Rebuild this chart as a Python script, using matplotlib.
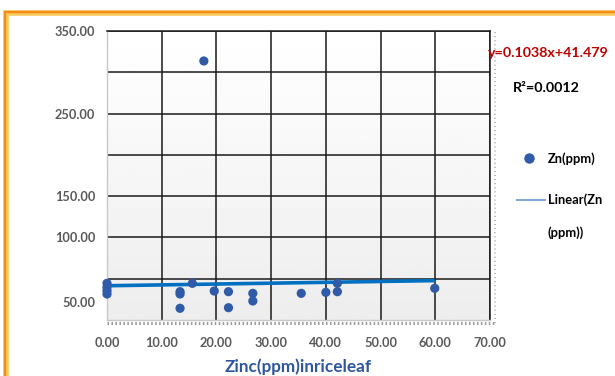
import numpy as np
import matplotlib.pyplot as plt
from matplotlib.patches import Rectangle
from matplotlib.lines import Line2D

plt.rcParams['font.family'] = ['Lato', 'DejaVu Sans']

# Zinc in rice leaf (x) vs Zn (y)
zinc_leaf = [0.0, 0.0, 0.0, 0.0, 13.35, 13.35, 13.35, 15.6, 17.7, 19.6,
             22.2, 22.2, 26.65, 26.65, 35.5, 40.0, 42.1, 42.1, 59.9]
zinc_ppm = [44.4, 39.6, 35.5, 31.5, 34.3, 31.5, 14.2, 44.4, 313.7, 35.1,
            34.3, 14.9, 32.3, 23.0, 32.3, 33.5, 44.4, 34.3, 38.4]

# trendline as printed on the chart
TREND_SLOPE = 0.1038
TREND_INTERCEPT = 41.479
R_SQUARED = 0.0012

x_ticks = [0, 10, 20, 30, 40, 50, 60, 70]
y_grid = [0, 50, 100, 150, 200, 250, 300, 350]
# the y labels sit oddly in the original; keep their spots
y_label_pos = [22, 100, 150, 250, 350]
y_label_txt = ['50.00', '100.00', '150.00', '250.00', '350.00']

W, H = 615, 376
fig = plt.figure(figsize=(W / 100, H / 100), dpi=100)
fig.patch.set_facecolor('white')

# orange frame with a pale yellow inner edge
fig.add_artist(Rectangle((6 / W, -0.05), 1.1, 1 - 13 / H + 0.05,
                         transform=fig.transFigure, facecolor='none',
                         edgecolor='#F6C75A', linewidth=4, zorder=0))
fig.add_artist(Rectangle((5 / W, -0.05), 1.1, 1 - 12 / H + 0.05,
                         transform=fig.transFigure, facecolor='none',
                         edgecolor='#F58B12', linewidth=1.6, zorder=0))

ax = fig.add_axes([107 / W, 1 - 320 / H, 383 / W, 289 / H])

# soft grey gradient in the plot area
grad = np.linspace(1.0, 0.93, 100).reshape(-1, 1)
ax.imshow(grad, cmap='gray', vmin=0, vmax=1, aspect='auto',
          extent=[0, 70, 0, 350], zorder=0)

ax.set_xlim(0, 70)
ax.set_ylim(0, 350)

for xv in x_ticks[1:]:
    ax.axvline(xv, color='#1A1A1A', linewidth=1.1, zorder=1)
for yv in y_grid[1:]:
    ax.axhline(yv, color='#1A1A1A', linewidth=1.1, zorder=1)

ax.set_xticks(x_ticks)
ax.set_xticklabels(['{:.2f}'.format(v) for v in x_ticks])
ax.set_yticks(y_label_pos)
ax.set_yticklabels(y_label_txt)
ax.tick_params(length=0, colors='#595959', labelsize=9.2)
ax.tick_params(axis='x', pad=12)
ax.tick_params(axis='y', pad=8.5)
for lab in ax.get_xticklabels() + ax.get_yticklabels():
    lab.set_fontweight('bold')

for side in ['left', 'bottom']:
    ax.spines[side].set_color('#C8C8C8')
    ax.spines[side].set_linewidth(1.0)
for side in ['top', 'right']:
    ax.spines[side].set_color('#1A1A1A')
    ax.spines[side].set_linewidth(1.1)

# dotted "shadow" edge below and right of the plot area
ax.plot([0, 1.012], [-0.012, -0.012], transform=ax.transAxes, clip_on=False,
        color='#9A9A9A', linewidth=2.2, linestyle=(0, (0.5, 0.8)), zorder=2)
ax.plot([1.012, 1.012], [-0.012, 1.0], transform=ax.transAxes, clip_on=False,
        color='#B0B0B0', linewidth=1.4, linestyle=(0, (0.5, 1.6)), zorder=2)

trend_x = np.array([min(zinc_leaf), max(zinc_leaf)])
trend_y = np.polyval([TREND_SLOPE, TREND_INTERCEPT], trend_x)
ax.plot(trend_x, trend_y, color='#0070C0', linewidth=2.6, zorder=3,
        solid_capstyle='butt')
ax.scatter(zinc_leaf, zinc_ppm, s=44, color='#2F5BA8', edgecolors='none',
           zorder=4, clip_on=False)

# equation and R squared
fig.text(609 / W, 1 - 53 / H,
         'y={:.4f}x+{:.3f}'.format(TREND_SLOPE, TREND_INTERCEPT),
         ha='right', va='center', color='#C00000', fontsize=10.3,
         fontweight='bold')
fig.text(513 / W, 1 - 88 / H, 'R²={:.4f}'.format(R_SQUARED),
         ha='left', va='center', color='black', fontsize=10.3,
         fontweight='bold')

# legend
fig.add_artist(Line2D([529 / W], [1 - 158 / H], marker='o', markersize=6.5,
                      color='#2F5BA8', linestyle='none',
                      transform=fig.transFigure))
fig.text(548 / W, 1 - 159 / H, 'Zn(ppm)', ha='left', va='center',
         fontsize=9.3, fontweight='bold')
fig.add_artist(Line2D([517 / W, 545 / W], [1 - 200 / H, 1 - 200 / H],
                      color='#7EA6DA', linewidth=1.4,
                      transform=fig.transFigure))
fig.text(548 / W, 1 - 200 / H, 'Linear(Zn', ha='left', va='center',
         fontsize=9.3, fontweight='bold')
fig.text(548 / W, 1 - 233 / H, '(ppm))', ha='left', va='center',
         fontsize=9.3, fontweight='bold')

# axis title, right at the bottom edge
fig.text(298 / W, 1 - 375 / H, 'Zinc(ppm)inriceleaf', ha='center',
         va='bottom', color='#2E56A0', fontsize=12.3, fontweight='bold')

fig.savefig('out.png', dpi=100)
